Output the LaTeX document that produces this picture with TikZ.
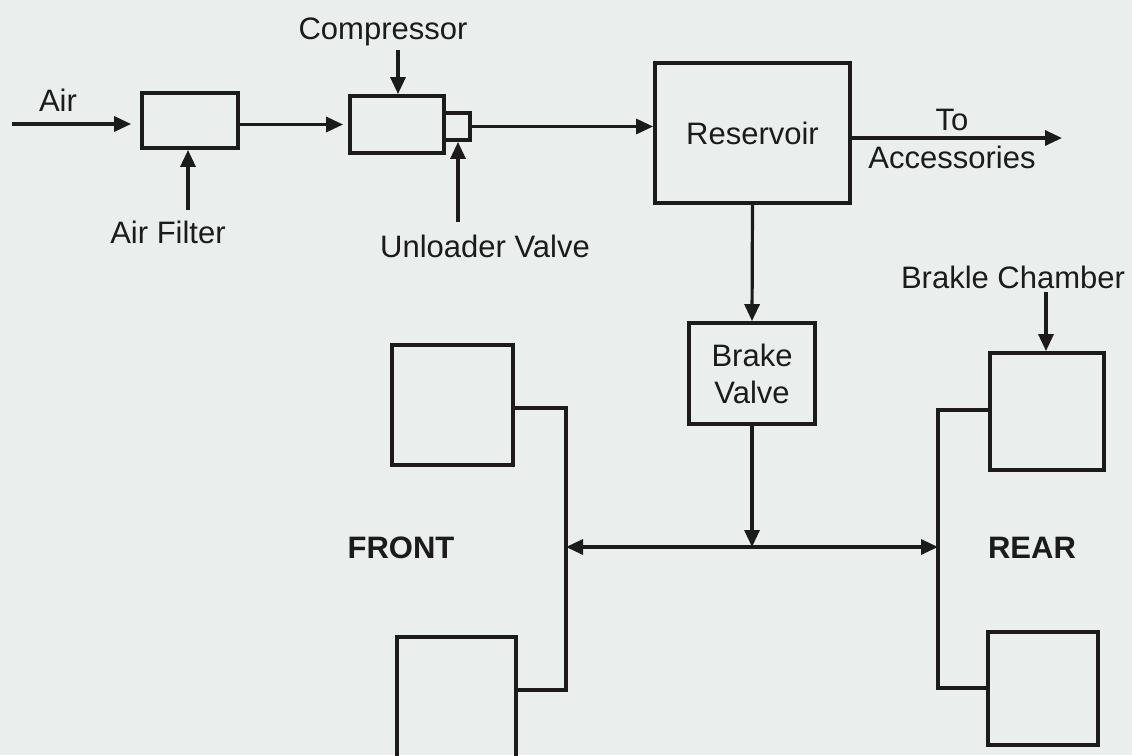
\documentclass[tikz,border=0pt]{standalone}
\usepackage{fontspec}
\setmainfont{Liberation Sans}
\usetikzlibrary{arrows.meta,calc}
\definecolor{ink}{HTML}{1C1A1A}
\definecolor{paper}{HTML}{EAEFEE}
\tikzset{
  blk/.style={draw=ink,line width=3.8pt,inner sep=0pt,fill=none},
  lbl/.style={text=ink,inner sep=0pt,font=\fontsize{31}{37}\selectfont},
  bold/.style={text=ink,inner sep=0pt,font=\fontsize{31}{37}\selectfont\bfseries},
  conn/.style={draw=ink,line width=3.2pt},
  arr/.style={conn,-{Triangle[length=17pt,width=15pt]}},
  darr/.style={conn,{Triangle[length=17pt,width=15pt]}-{Triangle[length=17pt,width=15pt]}},
}
\begin{document}
\begin{tikzpicture}[x=1pt,y=-1pt]
\useasboundingbox (0,0) rectangle (1132,755);
\fill[paper] (0,0) rectangle (1132,755);
\clip (0,0) rectangle (1132,755);

% boxes
\node[blk,minimum width=96pt,minimum height=55pt] (filter) at (190,120.5) {};
\node[blk,minimum width=94pt,minimum height=57pt] (comp) at (397,124.5) {};
\node[blk,minimum width=26pt,minimum height=27pt] (unl) at (457,126.5) {};
\node[blk,minimum width=195pt,minimum height=140pt,lbl] (res) at (752.5,133) {Reservoir};
\node[blk,minimum width=126pt,minimum height=101pt,lbl,align=center] (bv) at (752,373.5) {Brake\\Valve};
\node[blk,minimum width=121pt,minimum height=120pt] (ft) at (452.5,405) {};
\node[blk,minimum width=119pt,minimum height=126pt] (fb) at (456.5,700) {};
\node[blk,minimum width=114pt,minimum height=117pt] (rt) at (1047,411.5) {};
\node[blk,minimum width=110pt,minimum height=113pt] (rb) at (1043,688.5) {};

% labels
\node[lbl] (lair) at (58,100) {Air};
\node[lbl] (lfilter) at (168,232) {Air Filter};
\node[lbl] (lcomp) at (383,32) {Compressor};
\node[lbl] (lunl) at (485,246) {Unloader Valve};
\node[lbl] (lto) at (952,120) {To};
\node[lbl] (lacc) at (952,157) {Accessories};
\node[lbl] (lbc) at (1013,277) {Brakle Chamber};
\node[bold] (lfront) at (401,548) {FRONT};
\node[bold] (lrear) at (1032,548) {REAR};

% connector end points
\coordinate (airstart) at (12,124);
\coordinate (filterin) at (188,210);
\coordinate (compin) at (398,50);
\coordinate (unlin) at (458,222);
\coordinate (accend) at (1062,138);
\coordinate (junc) at (752,547);
\coordinate (fj) at (566,547);
\coordinate (rj) at (938,547);
\coordinate (fv1) at (566,408);
\coordinate (fv2) at (566,690);
\coordinate (rv1) at (938,410);
\coordinate (rv2) at (938,688);
\coordinate (bcin) at (1046,292);

% connectors
\draw[arr,shorten >=9pt] (airstart) -- (airstart -| filter.west);
\draw[arr] (filterin) -- (filterin |- filter.south);
\draw[arr,shorten >=5pt] (filter.east |- comp.west) -- (comp.west);
\draw[arr] (compin) -- (compin |- comp.north);
\draw[arr] (unlin) -- (unlin |- unl.south);
\draw[arr] (unl.east) -- (unl.east -| res.west);
\draw[arr] (res.east |- accend) -- (accend);
\draw[arr] (res.south) -- (bv.north);
\draw[arr] (bv.south) -- (junc);
\draw[darr] (fj) -- (rj);
\draw[conn] (ft.east |- fv1) -- (fv1) -- (fv2) -- (fb.east |- fv2);
\draw[conn] (rt.west |- rv1) -- (rv1) -- (rv2) -- (rb.west |- rv2);
\draw[arr] (bcin) -- (bcin |- rt.north);
\end{tikzpicture}
\end{document}
